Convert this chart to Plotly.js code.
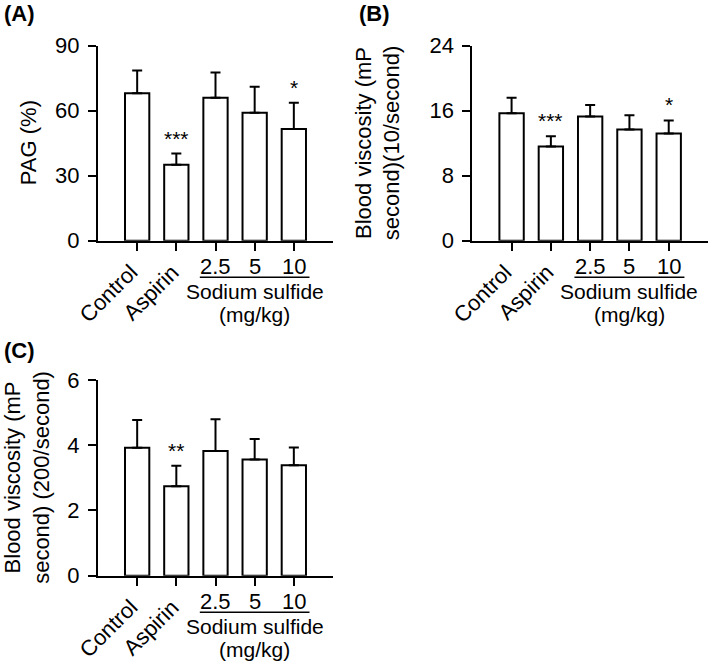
<!DOCTYPE html>
<html>
<head>
<meta charset="utf-8">
<script src="https://cdn.plot.ly/plotly-3.0.1.min.js"></script>
<style>html,body{margin:0;padding:0;background:#fff;}#chart{width:709px;height:662px;}</style>
</head>
<body>
<div id="chart"></div>
<script>
// ---- data ----
const groups = ["Control", "Aspirin", "2.5", "5", "10"];
const groupLabelName = "Sodium sulfide";
const groupLabelUnit = "(mg/kg)";

const pagMean = [68, 35, 66, 59, 51.5];
const pagErr  = [10.5, 5.2, 11.6, 12.1, 12.2];
const pagSig  = ["", "***", "", "", "*"];

const visc10Mean = [15.7, 11.6, 15.3, 13.7, 13.2];
const visc10Err  = [1.9, 1.25, 1.4, 1.75, 1.6];
const visc10Sig  = ["", "***", "", "", "*"];

const visc200Mean = [3.92, 2.74, 3.82, 3.56, 3.39];
const visc200Err  = [0.85, 0.63, 0.98, 0.63, 0.54];
const visc200Sig  = ["", "**", "", "", ""];

const pagTicks = [0, 30, 60, 90];
const visc10Ticks = [0, 8, 16, 24];
const visc200Ticks = [0, 2, 4, 6];

// ---- layout helpers ----
const W = 709, H = 662;
const FONT = "Liberation Sans, Arial, sans-serif";
const px = p => p / W;
const py = p => 1 - p / H;
const xpos = groups.map((g, i) => i);

const panels = [
  {key: "", mean: pagMean, err: pagErr, sig: pagSig, ticks: pagTicks, letter: "(A)",
   title: "PAG (%)", x0: 98, x1: 333, yTop: 45.7, yBot: 240.7, titleX: 28, letterX: 19, letterY: 13},
  {key: "2", mean: visc10Mean, err: visc10Err, sig: visc10Sig, ticks: visc10Ticks, letter: "(B)",
   title: "Blood viscosity (mP<br>second)(10/second)", x0: 472.3, x1: 708, yTop: 45.7, yBot: 240.7, titleX: 378, letterX: 375, letterY: 13},
  {key: "3", mean: visc200Mean, err: visc200Err, sig: visc200Sig, ticks: visc200Ticks, letter: "(C)",
   title: "Blood viscosity (mP<br>second) (200/second)", x0: 98, x1: 333, yTop: 380, yBot: 575.7, titleX: 27, letterX: 19, letterY: 350}
];

const traces = [];
const layout = {
  width: W, height: H,
  margin: {l: 0, r: 0, t: 0, b: 0},
  paper_bgcolor: "#fff", plot_bgcolor: "rgba(0,0,0,0)",
  font: {family: FONT, size: 22, color: "#000"},
  showlegend: false,
  annotations: [], shapes: []
};

panels.forEach(p => {
  const xa = "x" + p.key, ya = "y" + p.key;
  traces.push({
    type: "bar", x: xpos, y: p.mean, xaxis: xa, yaxis: ya, width: 0.62,
    marker: {color: "#fff", line: {color: "#000", width: 2}},
    error_y: {type: "data", symmetric: false, array: p.err, arrayminus: p.err.map(() => 0),
              color: "#000", thickness: 2, width: 5},
    hoverinfo: "skip"
  });
  const top = Math.max(...p.ticks);
  layout["xaxis" + p.key] = {
    domain: [px(p.x0), px(p.x1)], anchor: ya, range: [-1, 5],
    showline: true, linecolor: "#000", linewidth: 2, showgrid: false, zeroline: false,
    ticks: "outside", ticklen: 8, tickwidth: 2, tickcolor: "#000",
    tickvals: xpos, showticklabels: false, fixedrange: true
  };
  layout["yaxis" + p.key] = {
    domain: [py(p.yBot), py(p.yTop)], anchor: xa, range: [0, top],
    showline: true, linecolor: "#000", linewidth: 2, showgrid: false, zeroline: false,
    ticks: "outside", ticklen: 8, tickwidth: 2, tickcolor: "#000",
    tickvals: p.ticks, ticklabelstandoff: 4,
    tickfont: {size: 22, family: FONT}, fixedrange: true
  };
  // significance stars
  p.sig.forEach((s, i) => {
    if (!s) return;
    layout.annotations.push({xref: xa, yref: ya, x: i, y: p.mean[i] + p.err[i], text: s,
      showarrow: false, yanchor: "bottom", yshift: 2, font: {size: 21, family: FONT}});
  });
  // category labels
  [0, 1].forEach(i => {
    layout.annotations.push({xref: xa, yref: "paper", x: i, y: py(p.yBot + 16), text: groups[i],
      showarrow: false, textangle: -45, xanchor: "right", yanchor: "top", xshift: i === 1 ? 10 : 8,
      font: {size: 22, family: FONT}});
  });
  [2, 3, 4].forEach(i => {
    layout.annotations.push({xref: xa, yref: "paper", x: i, y: py(p.yBot + 26), text: groups[i],
      showarrow: false, xanchor: "center", yanchor: "middle", font: {size: 22, family: FONT}});
  });
  layout.shapes.push({type: "line", xref: xa, yref: "paper", x0: 1.6, x1: 4.4,
    y0: py(p.yBot + 36.6), y1: py(p.yBot + 36.6), line: {color: "#000", width: 1.5}});
  layout.annotations.push({xref: xa, yref: "paper", x: 3, y: py(p.yBot + 51), text: groupLabelName,
    showarrow: false, xanchor: "center", yanchor: "middle", font: {size: 21, family: FONT}});
  layout.annotations.push({xref: xa, yref: "paper", x: 3, y: py(p.yBot + 74), text: groupLabelUnit,
    showarrow: false, xanchor: "center", yanchor: "middle", font: {size: 21, family: FONT}});
  // y title
  layout.annotations.push({xref: "paper", yref: "paper", x: px(p.titleX), y: py((p.yTop + p.yBot) / 2),
    text: p.title, showarrow: false, textangle: -90, xanchor: "center", yanchor: "middle",
    font: {size: 22, family: FONT}});
  // panel letter
  layout.annotations.push({xref: "paper", yref: "paper", x: px(p.letterX), y: py(p.letterY),
    text: "<b>" + p.letter + "</b>", showarrow: false, xanchor: "center", yanchor: "middle",
    font: {size: 22, family: FONT}});
});

Plotly.newPlot("chart", traces, layout, {displayModeBar: false, staticPlot: true});
</script>
</body>
</html>
